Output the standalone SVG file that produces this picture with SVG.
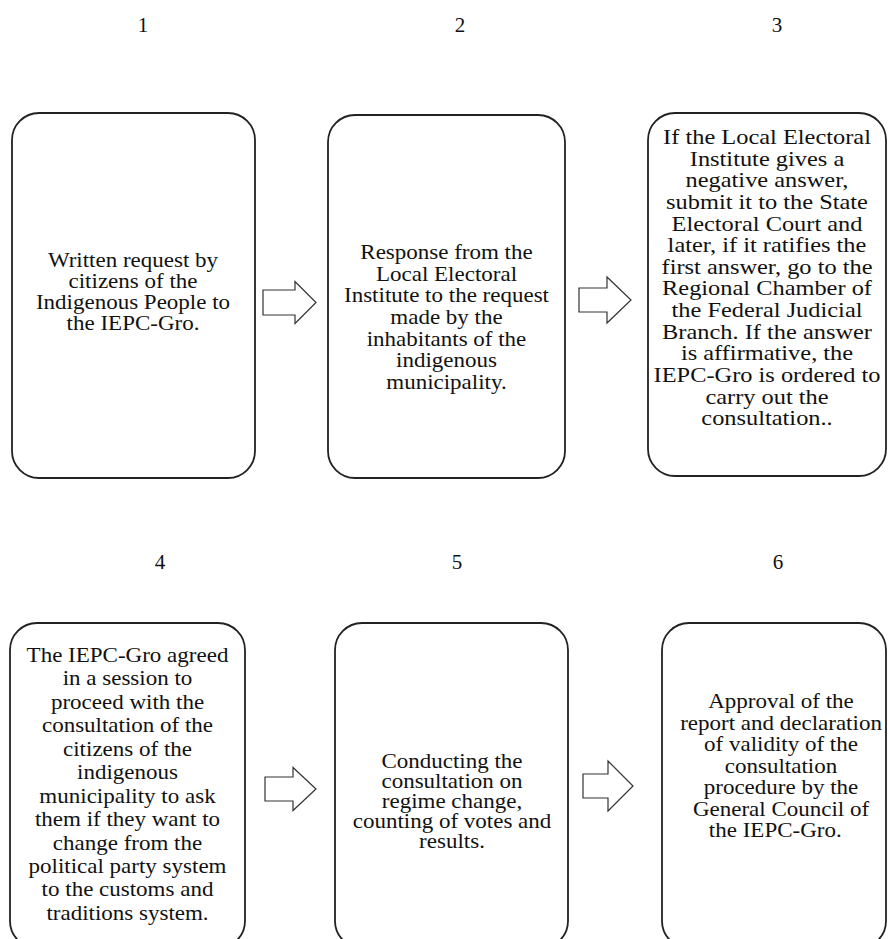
<svg xmlns="http://www.w3.org/2000/svg" width="888" height="939" viewBox="0 0 888 939">
<style>
.box{fill:#fff;stroke:#222;stroke-width:1.8}
.arr{fill:#fff;stroke:#333;stroke-width:1.2;stroke-linejoin:miter}
.t{font-family:"Liberation Serif","Times New Roman",serif;font-size:20px;fill:#111;text-anchor:middle}
.num{font-family:"Liberation Serif","Times New Roman",serif;font-size:21px;fill:#111;text-anchor:middle}
</style>
<rect width="888" height="939" fill="#fff"/>
<g id="labels">
<text class="num" x="143" y="32">1</text>
<text class="num" x="460" y="32">2</text>
<text class="num" x="777" y="32">3</text>
<text class="num" x="160" y="569">4</text>
<text class="num" x="457" y="569">5</text>
<text class="num" x="778" y="569">6</text>
</g>
<g id="node1">
<rect class="box" x="12" y="113" width="243" height="365" rx="27"/>
<text class="t" transform="translate(133,0) scale(1.15,1)"><tspan x="0" y="267">Written request by</tspan><tspan x="0" y="288">citizens of the</tspan><tspan x="0" y="309">Indigenous People to</tspan><tspan x="0" y="330">the IEPC-Gro.</tspan></text>
</g>
<g id="node2">
<rect class="box" x="328" y="115" width="237" height="363" rx="27"/>
<text class="t" transform="translate(446.5,0) scale(1.15,1)"><tspan x="0" y="259">Response from the</tspan><tspan x="0" y="280.7">Local Electoral</tspan><tspan x="0" y="302.3">Institute to the request</tspan><tspan x="0" y="324">made by the</tspan><tspan x="0" y="345.7">inhabitants of the</tspan><tspan x="0" y="367.3">indigenous</tspan><tspan x="0" y="389">municipality.</tspan></text>
</g>
<g id="node3">
<rect class="box" x="648" y="113" width="238" height="363" rx="27"/>
<text class="t" transform="translate(767,0) scale(1.22,1)"><tspan x="0" y="144">If the Local Electoral</tspan><tspan x="0" y="165.6">Institute gives a</tspan><tspan x="0" y="187.3">negative answer,</tspan><tspan x="0" y="208.9">submit it to the State</tspan><tspan x="0" y="230.6">Electoral Court and</tspan><tspan x="0" y="252.2">later, if it ratifies the</tspan><tspan x="0" y="273.9">first answer, go to the</tspan><tspan x="0" y="295.5">Regional Chamber of</tspan><tspan x="0" y="317.1">the Federal Judicial</tspan><tspan x="0" y="338.8">Branch. If the answer</tspan><tspan x="0" y="360.4">is affirmative, the</tspan><tspan x="0" y="382.1">IEPC-Gro is ordered to</tspan><tspan x="0" y="403.7">carry out the</tspan><tspan x="0" y="425.4">consultation..</tspan></text>
</g>
<g id="node4">
<rect class="box" x="10" y="623" width="235" height="325" rx="27"/>
<text class="t" transform="translate(127.5,0) scale(1.15,1)"><tspan x="0" y="662">The IEPC-Gro agreed</tspan><tspan x="0" y="685.5">in a session to</tspan><tspan x="0" y="708.9">proceed with the</tspan><tspan x="0" y="732.4">consultation of the</tspan><tspan x="0" y="755.8">citizens of the</tspan><tspan x="0" y="779.3">indigenous</tspan><tspan x="0" y="802.7">municipality to ask</tspan><tspan x="0" y="826.2">them if they want to</tspan><tspan x="0" y="849.6">change from the</tspan><tspan x="0" y="873.1">political party system</tspan><tspan x="0" y="896.5">to the customs and</tspan><tspan x="0" y="920">traditions system.</tspan></text>
</g>
<g id="node5">
<rect class="box" x="335" y="623" width="233" height="325" rx="27"/>
<text class="t" transform="translate(452,0) scale(1.15,1)"><tspan x="0" y="768">Conducting the</tspan><tspan x="0" y="788">consultation on</tspan><tspan x="0" y="808">regime change,</tspan><tspan x="0" y="828">counting of votes and</tspan><tspan x="0" y="848">results.</tspan></text>
</g>
<g id="node6">
<rect class="box" x="662" y="623" width="224" height="325" rx="27"/>
<text class="t" transform="translate(781,0) scale(1.15,1)"><tspan x="0" y="708.5">Approval of the</tspan><tspan x="0" y="730">report and declaration</tspan><tspan x="0" y="751.5">of validity of the</tspan><tspan x="0" y="773">consultation</tspan><tspan x="0" y="794.5">procedure by the</tspan><tspan x="0" y="816">General Council of</tspan><tspan x="-5" y="837.5">the IEPC-Gro.</tspan></text>
</g>
<g id="connectors">
<path class="arr" d="M263,290 H295 V281.5 L316,302.5 L295,323.5 V315 H263 Z"/>
<path class="arr" d="M579,288 H607 V277 L631,300 L607,323 V312 H579 Z"/>
<path class="arr" d="M265,777 H293 V767.5 L316,789 L293,810.5 V801 H265 Z"/>
<path class="arr" d="M583,774 H608 V761 L633,786 L608,811 V798 H583 Z"/>
</g>
</svg>
